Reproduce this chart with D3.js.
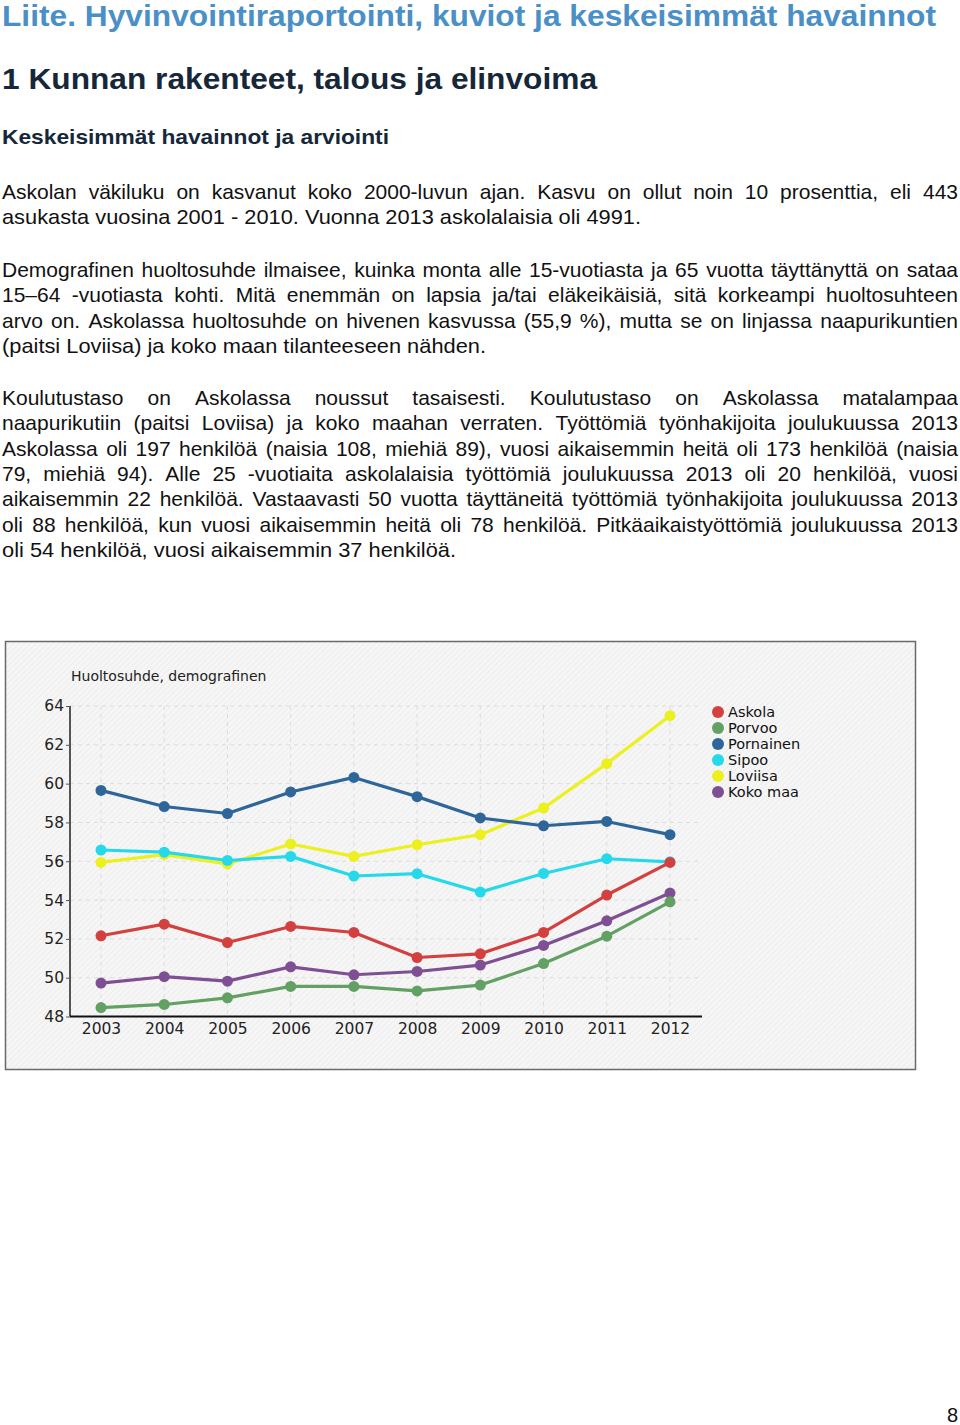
<!DOCTYPE html>
<html>
<head>
<meta charset="utf-8">
<script src="https://cdn.jsdelivr.net/npm/d3@7"></script>
<style>
  body { margin: 0; background: #fff; }
  svg { display: block; }
</style>
</head>
<body>
<script>
// chart data
const years = [2003, 2004, 2005, 2006, 2007, 2008, 2009, 2010, 2011, 2012];
const seriesNames = ["Askola", "Porvoo", "Pornainen", "Sipoo", "Loviisa", "Koko maa"];
const askola    = [52.16, 52.76, 51.81, 52.64, 52.33, 51.04, 51.23, 52.33, 54.26, 55.94];
const porvoo    = [48.46, 48.62, 48.96, 49.55, 49.55, 49.32, 49.62, 50.73, 52.14, 53.91];
const pornainen = [59.65, 58.82, 58.46, 59.57, 60.32, 59.33, 58.23, 57.83, 58.05, 57.37];
const sipoo     = [56.58, 56.47, 56.04, 56.25, 55.24, 55.36, 54.41, 55.37, 56.13, 55.97];
const loviisa   = [55.94, 56.34, 55.86, 56.89, 56.25, 56.85, 57.37, 58.74, 61.03, 63.50];
const kokoMaa   = [49.72, 50.05, 49.82, 50.56, 50.15, 50.32, 50.65, 51.66, 52.93, 54.36];
const yTicks = [48, 50, 52, 54, 56, 58, 60, 62, 64];
const colors = ["#d44040", "#63a063", "#2f6699", "#26d9ea", "#ecf01e", "#7f4f94"];
const chartTitle = "Huoltosuhde, demografinen";

// page text
const heading1 = "Liite. Hyvinvointiraportointi, kuviot ja keskeisimmät havainnot";
const heading2 = "1 Kunnan rakenteet, talous ja elinvoima";
const heading3 = "Keskeisimmät havainnot ja arviointi";
const para1 = [
  "Askolan väkiluku on kasvanut koko 2000-luvun ajan. Kasvu on ollut noin 10 prosenttia, eli 443",
  "asukasta vuosina 2001 - 2010. Vuonna 2013 askolalaisia oli 4991."
];
const para2 = [
  "Demografinen huoltosuhde ilmaisee, kuinka monta alle 15-vuotiasta ja 65 vuotta täyttänyttä on sataa",
  "15–64 -vuotiasta kohti. Mitä enemmän on lapsia ja/tai eläkeikäisiä, sitä korkeampi huoltosuhteen",
  "arvo on. Askolassa huoltosuhde on hivenen kasvussa (55,9 %), mutta se on linjassa naapurikuntien",
  "(paitsi Loviisa) ja koko maan tilanteeseen nähden."
];
const para3 = [
  "Koulutustaso on Askolassa noussut tasaisesti. Koulutustaso on Askolassa matalampaa",
  "naapurikutiin (paitsi Loviisa) ja koko maahan verraten. Työttömiä työnhakijoita joulukuussa 2013",
  "Askolassa oli 197 henkilöä (naisia 108, miehiä 89), vuosi aikaisemmin heitä oli 173 henkilöä (naisia",
  "79, miehiä 94). Alle 25 -vuotiaita askolalaisia työttömiä joulukuussa 2013 oli 20 henkilöä, vuosi",
  "aikaisemmin 22 henkilöä. Vastaavasti 50 vuotta täyttäneitä työttömiä työnhakijoita joulukuussa 2013",
  "oli 88 henkilöä, kun vuosi aikaisemmin heitä oli 78 henkilöä. Pitkäaikaistyöttömiä joulukuussa 2013",
  "oli 54 henkilöä, vuosi aikaisemmin 37 henkilöä."
];

const W = 960, H = 1425;
const svg = d3.select("body").append("svg")
  .attr("width", W).attr("height", H);

const textFont = "'Liberation Sans', Arial, sans-serif";
const chartFont = "'DejaVu Sans', Verdana, sans-serif";
const bodySize = 21;

// headings
const head = (txt, y, size, len, color) => {
  svg.append("text")
    .attr("x", 2).attr("y", y)
    .attr("font-family", textFont)
    .attr("font-weight", "bold")
    .attr("font-size", size)
    .attr("fill", color)
    .attr("textLength", len)
    .attr("lengthAdjust", "spacingAndGlyphs")
    .text(txt);
};
head(heading1, 26, 30, 934, "#4a8fc6");
head(heading2, 89, 30, 595, "#16273a");
head(heading3, 144, 21, 387, "#16273a");

// paragraphs, justified line by line
const measure = svg.append("text")
  .attr("font-family", textFont).attr("font-size", bodySize)
  .attr("visibility", "hidden");
const widthOf = s => { measure.text(s); return measure.node().getComputedTextLength(); };

const drawPara = (lines, y0, lastLen) => {
  lines.forEach((ln, i) => {
    const isLast = i === lines.length - 1;
    const yy = y0 + i * 25.3;
    const t = svg.append("text")
      .attr("x", 2).attr("y", yy)
      .attr("font-family", textFont)
      .attr("font-size", bodySize)
      .attr("fill", "#111");
    const target = isLast ? lastLen : 956;
    const natural = widthOf(ln);
    if (isLast || target / natural <= 1.0) {
      t.attr("textLength", target)
        .attr("lengthAdjust", "spacingAndGlyphs")
        .text(ln);
    } else {
      // short line: keep glyphs, widen the word gaps
      const words = ln.split(" ");
      const wl = words.map(widthOf);
      const gap = (target - d3.sum(wl)) / (words.length - 1);
      let x = 2;
      words.forEach((w, j) => {
        t.append("tspan").attr("x", x).text(w);
        x += wl[j] + gap;
      });
    }
  });
};
drawPara(para1, 199, 639);
drawPara(para2, 277, 484);
drawPara(para3, 405, 454);
measure.remove();

// page number
svg.append("text")
  .attr("x", 958).attr("y", 1422)
  .attr("text-anchor", "end")
  .attr("font-family", textFont)
  .attr("font-size", 20)
  .attr("fill", "#111")
  .text("8");

// chart frame with hatched background
const defs = svg.append("defs");
const pat = defs.append("pattern")
  .attr("id", "hatch")
  .attr("patternUnits", "userSpaceOnUse")
  .attr("width", 4).attr("height", 4)
  .attr("patternTransform", "rotate(45)");
pat.append("rect").attr("width", 4).attr("height", 4).attr("fill", "#f6f6f6");
pat.append("line").attr("x1", 0).attr("y1", 0).attr("x2", 0).attr("y2", 4)
  .attr("stroke", "#ebebeb").attr("stroke-width", 1.5);

svg.append("rect")
  .attr("x", 5.5).attr("y", 641.5)
  .attr("width", 910).attr("height", 428)
  .attr("fill", "url(#hatch)")
  .attr("stroke", "#6a6a6a")
  .attr("stroke-width", 1.5);

svg.append("text")
  .attr("x", 71).attr("y", 681)
  .attr("font-family", chartFont)
  .attr("font-size", 14)
  .attr("fill", "#222")
  .text(chartTitle);

const x = d3.scalePoint().domain(years).range([101, 670]);
const y = d3.scaleLinear().domain([48, 64]).range([1016.5, 706]);
const axisLeft = 70, axisRight = 702;

const g = svg.append("g");

// grid
g.selectAll(".hgrid").data(yTicks.slice(1)).join("line")
  .attr("x1", axisLeft).attr("x2", axisRight)
  .attr("y1", d => y(d)).attr("y2", d => y(d))
  .attr("stroke", "#dcdcdc").attr("stroke-dasharray", "4,4");
g.selectAll(".vgrid").data(years).join("line")
  .attr("x1", d => x(d)).attr("x2", d => x(d))
  .attr("y1", y(64)).attr("y2", y(48))
  .attr("stroke", "#dcdcdc").attr("stroke-dasharray", "4,4");

// y axis
const yAxis = d3.axisLeft(y).tickValues(yTicks).tickSize(4).tickPadding(2);
const ya = g.append("g")
  .attr("transform", `translate(${axisLeft},0)`)
  .call(yAxis);
ya.select(".domain").attr("stroke", "#555").attr("stroke-width", 2)
  .attr("d", `M0,${y(64)}V${y(48)}`);
ya.selectAll(".tick line").attr("stroke", "#555");
ya.selectAll(".tick text")
  .attr("font-family", chartFont).attr("font-size", 15.5).attr("fill", "#222");

// x axis
const xAxis = d3.axisBottom(x).tickSize(0).tickPadding(6);
const xa = g.append("g")
  .attr("transform", `translate(0,${y(48)})`)
  .call(xAxis);
xa.select(".domain").attr("stroke", "#111").attr("stroke-width", 2)
  .attr("d", `M${axisLeft},0H${axisRight}`);
xa.selectAll(".tick text")
  .attr("font-family", chartFont).attr("font-size", 15.5).attr("fill", "#222");

// series
const allSeries = [askola, porvoo, pornainen, sipoo, loviisa, kokoMaa];
const drawOrder = [4, 3, 2, 5, 1, 0];
const line = d3.line().x((d, i) => x(years[i])).y(d => y(d));
drawOrder.forEach(k => {
  const vals = allSeries[k];
  g.append("path")
    .attr("d", line(vals))
    .attr("fill", "none")
    .attr("stroke", colors[k])
    .attr("stroke-width", 3.2)
    .attr("stroke-linejoin", "round");
  g.selectAll(null).data(vals).join("circle")
    .attr("cx", (d, i) => x(years[i]))
    .attr("cy", d => y(d))
    .attr("r", 5.5)
    .attr("fill", colors[k]);
});

// legend
const lg = svg.append("g").attr("transform", "translate(718,712)");
const items = lg.selectAll("g").data(seriesNames).join("g")
  .attr("transform", (d, i) => `translate(0,${i * 16})`);
items.append("circle").attr("r", 6).attr("fill", (d, i) => colors[i]);
items.append("text")
  .attr("x", 10).attr("y", 5)
  .attr("font-family", chartFont)
  .attr("font-size", 14.5)
  .attr("fill", "#111")
  .text(d => d);
</script>
</body>
</html>
